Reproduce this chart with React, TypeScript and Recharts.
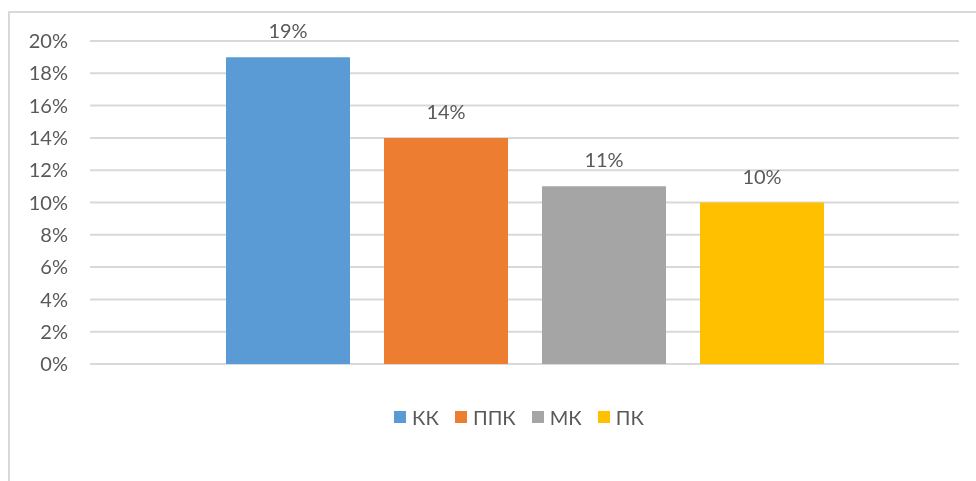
import React from 'react';
import { BarChart, Bar, XAxis, YAxis, CartesianGrid, Legend, LabelList } from 'recharts';

const categories = [''];
const seriesNames = ['КК', 'ППК', 'МК', 'ПК'];
const seriesValues = [19, 14, 11, 10];
const seriesColors = ['#5B9BD5', '#ED7D31', '#A5A5A5', '#FFC000'];
const yTicks = [0, 2, 4, 6, 8, 10, 12, 14, 16, 18, 20];

const FONT = 'Lato, "Open Sans", sans-serif';
const TEXT = '#595959';

const data = categories.map((c) => {
  const row: Record<string, string | number> = { name: c };
  seriesNames.forEach((n, i) => {
    row[`s${i}`] = seriesValues[i];
  });
  return row;
});

const LegendContent = (props: any) => {
  const payload = [...(props.payload || [])].sort(
    (a: any, b: any) => seriesNames.indexOf(a.value) - seriesNames.indexOf(b.value)
  );
  return (
    <div
      style={{
        display: 'flex',
        justifyContent: 'center',
        alignItems: 'center',
        fontFamily: FONT,
        fontSize: 20,
        color: TEXT,
        lineHeight: '24px',
      }}
    >
      {payload.map((p: any, i: number) => (
        <div key={i} style={{ display: 'flex', alignItems: 'center', marginRight: i < payload.length - 1 ? 16 : 0 }}>
          <span style={{ display: 'inline-block', width: 12, height: 12, background: p.color, marginRight: 6 }} />
          <span>{p.value}</span>
        </div>
      ))}
    </div>
  );
};

export default function App() {
  return (
    <div style={{ position: 'relative', width: 960, height: 465, overflow: 'hidden', background: '#fff' }}>
      <div
        style={{
          position: 'fixed',
          left: 8,
          top: 11,
          width: 2000,
          height: 2000,
          borderLeft: '2px solid #D9D9D9',
          borderTop: '2px solid #D9D9D9',
          boxSizing: 'border-box',
          pointerEvents: 'none',
        }}
      />
      <div style={{ position: 'absolute', left: 0, top: 0 }}>
        <BarChart
          width={960}
          height={465}
          data={data}
          margin={{ top: 33, right: 9, bottom: 109, left: 20 }}
          barSize={124}
          barGap={34}
        >
          <CartesianGrid vertical={false} stroke="#D9D9D9" strokeWidth={2} />
          <XAxis dataKey="name" hide />
          <YAxis
            width={62}
            domain={[0, 20]}
            ticks={yTicks}
            interval={0}
            axisLine={false}
            tickLine={false}
            tickSize={0}
            tickMargin={22}
            tickFormatter={(v: number) => `${v}%`}
            tick={{ fill: TEXT, fontSize: 20, fontFamily: FONT }}
          />
          <Legend
            layout="horizontal"
            verticalAlign="middle"
            align="center"
            itemSorter={null as any}
            content={<LegendContent />}
            wrapperStyle={{ top: 397, left: 62, width: 898 }}
          />
          {seriesNames.map((n, i) => (
            <Bar key={n} dataKey={`s${i}`} name={n} fill={seriesColors[i]} isAnimationActive={false}>
              <LabelList
                dataKey={`s${i}`}
                position="top"
                offset={19}
                formatter={(v: any) => `${v}%`}
                style={{ fill: TEXT, fontSize: 20, fontFamily: FONT }}
              />
            </Bar>
          ))}
        </BarChart>
      </div>
    </div>
  );
}
